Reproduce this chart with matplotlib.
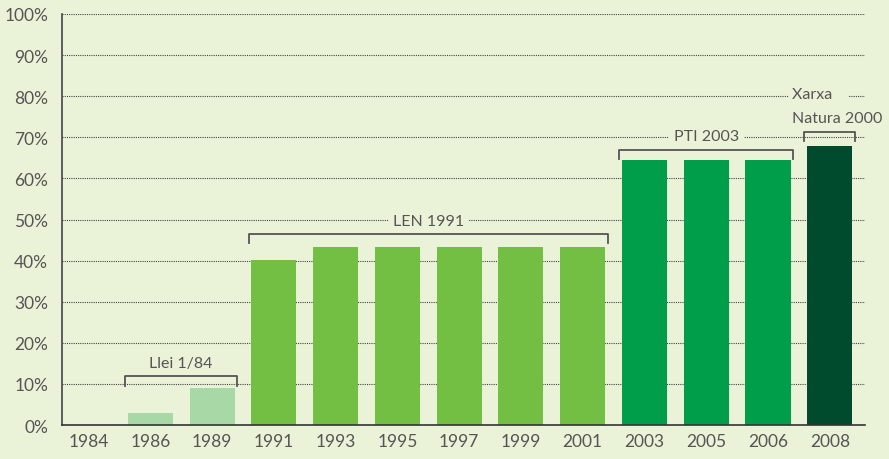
import matplotlib.pyplot as plt
import numpy as np

# data
years = ['1984', '1986', '1989', '1991', '1993', '1995', '1997', '1999', '2001',
         '2003', '2005', '2006', '2008']
share = [0, 2.9, 9.0, 40.1, 43.3, 43.3, 43.3, 43.3, 43.3, 64.5, 64.5, 64.5, 67.9]
group = [0, 0, 0, 1, 1, 1, 1, 1, 1, 2, 2, 2, 3]

# law periods: (label, first bar index, last bar index, bracket height %)
periods = [('Llei 1/84', 1, 2, 11.9),
           ('LEN 1991', 3, 8, 46.5),
           ('PTI 2003', 9, 11, 67.0),
           ('Xarxa\nNatura 2000', 12, 12, 71.3)]

bg = '#eaf3d7'
txt = '#555555'
group_colors = ['#a8d8a5', '#72bf44', '#009d4b', '#004b2d']
fs = 12.5    # tick labels
fs_ann = 11.5  # period labels

plt.rcParams['font.family'] = ['Lato', 'DejaVu Sans']

fig = plt.figure(figsize=(8.89, 4.60), dpi=100, facecolor=bg)
ax = fig.add_axes([0.0697, 0.0739, 0.9033, 0.8935])
ax.set_facecolor(bg)

x = np.arange(len(years))
ax.bar(x, share, width=0.73, color=[group_colors[g] for g in group], zorder=2)

ax.set_xlim(-0.43, 12.57)
ax.set_ylim(0, 100)
ax.set_yticks(np.arange(0, 101, 10))
ax.set_yticklabels([f'{v}%' for v in range(0, 101, 10)])
ax.set_xticks(x)
ax.set_xticklabels(years)
ax.tick_params(length=0, labelsize=fs, colors=txt)
ax.tick_params(axis='y', pad=10)
ax.tick_params(axis='x', pad=6)

for v in range(10, 101, 10):
    ax.axhline(v, color='#444444', lw=0.8, ls=(0, (1, 1)), zorder=1)

for s in ['top', 'right']:
    ax.spines[s].set_visible(False)
ax.spines['left'].set_color('#444444')
ax.spines['bottom'].set_color('#333333')
ax.spines['left'].set_linewidth(1.2)
ax.spines['bottom'].set_linewidth(1.2)

for label, i0, i1, h in periods:
    xl, xr = i0 - 0.41, i1 + 0.41
    ax.plot([xl, xl, xr, xr], [h - 2.3, h, h, h - 2.3], color='#555555',
            lw=1.3, zorder=3)
    if '\n' in label:
        top, bottom = label.split('\n')
        ax.text(xl - 0.2, h + 1.8, bottom, ha='left', va='bottom', fontsize=fs_ann,
                color=txt, zorder=4,
                bbox=dict(boxstyle='square,pad=0.2', fc=bg, ec='none'))
        ax.text(xl - 0.2, h + 7.6, top + '   ', ha='left', va='bottom', fontsize=fs_ann,
                color=txt, zorder=4,
                bbox=dict(boxstyle='square,pad=0.2', fc=bg, ec='none'))
    else:
        ax.text((xl + xr) / 2, h + 1.5, label, ha='center', va='bottom', fontsize=fs_ann,
                color=txt, zorder=4,
                bbox=dict(boxstyle='square,pad=0.3', fc=bg, ec='none'))

fig.savefig('out.png', dpi=100, facecolor=bg)
